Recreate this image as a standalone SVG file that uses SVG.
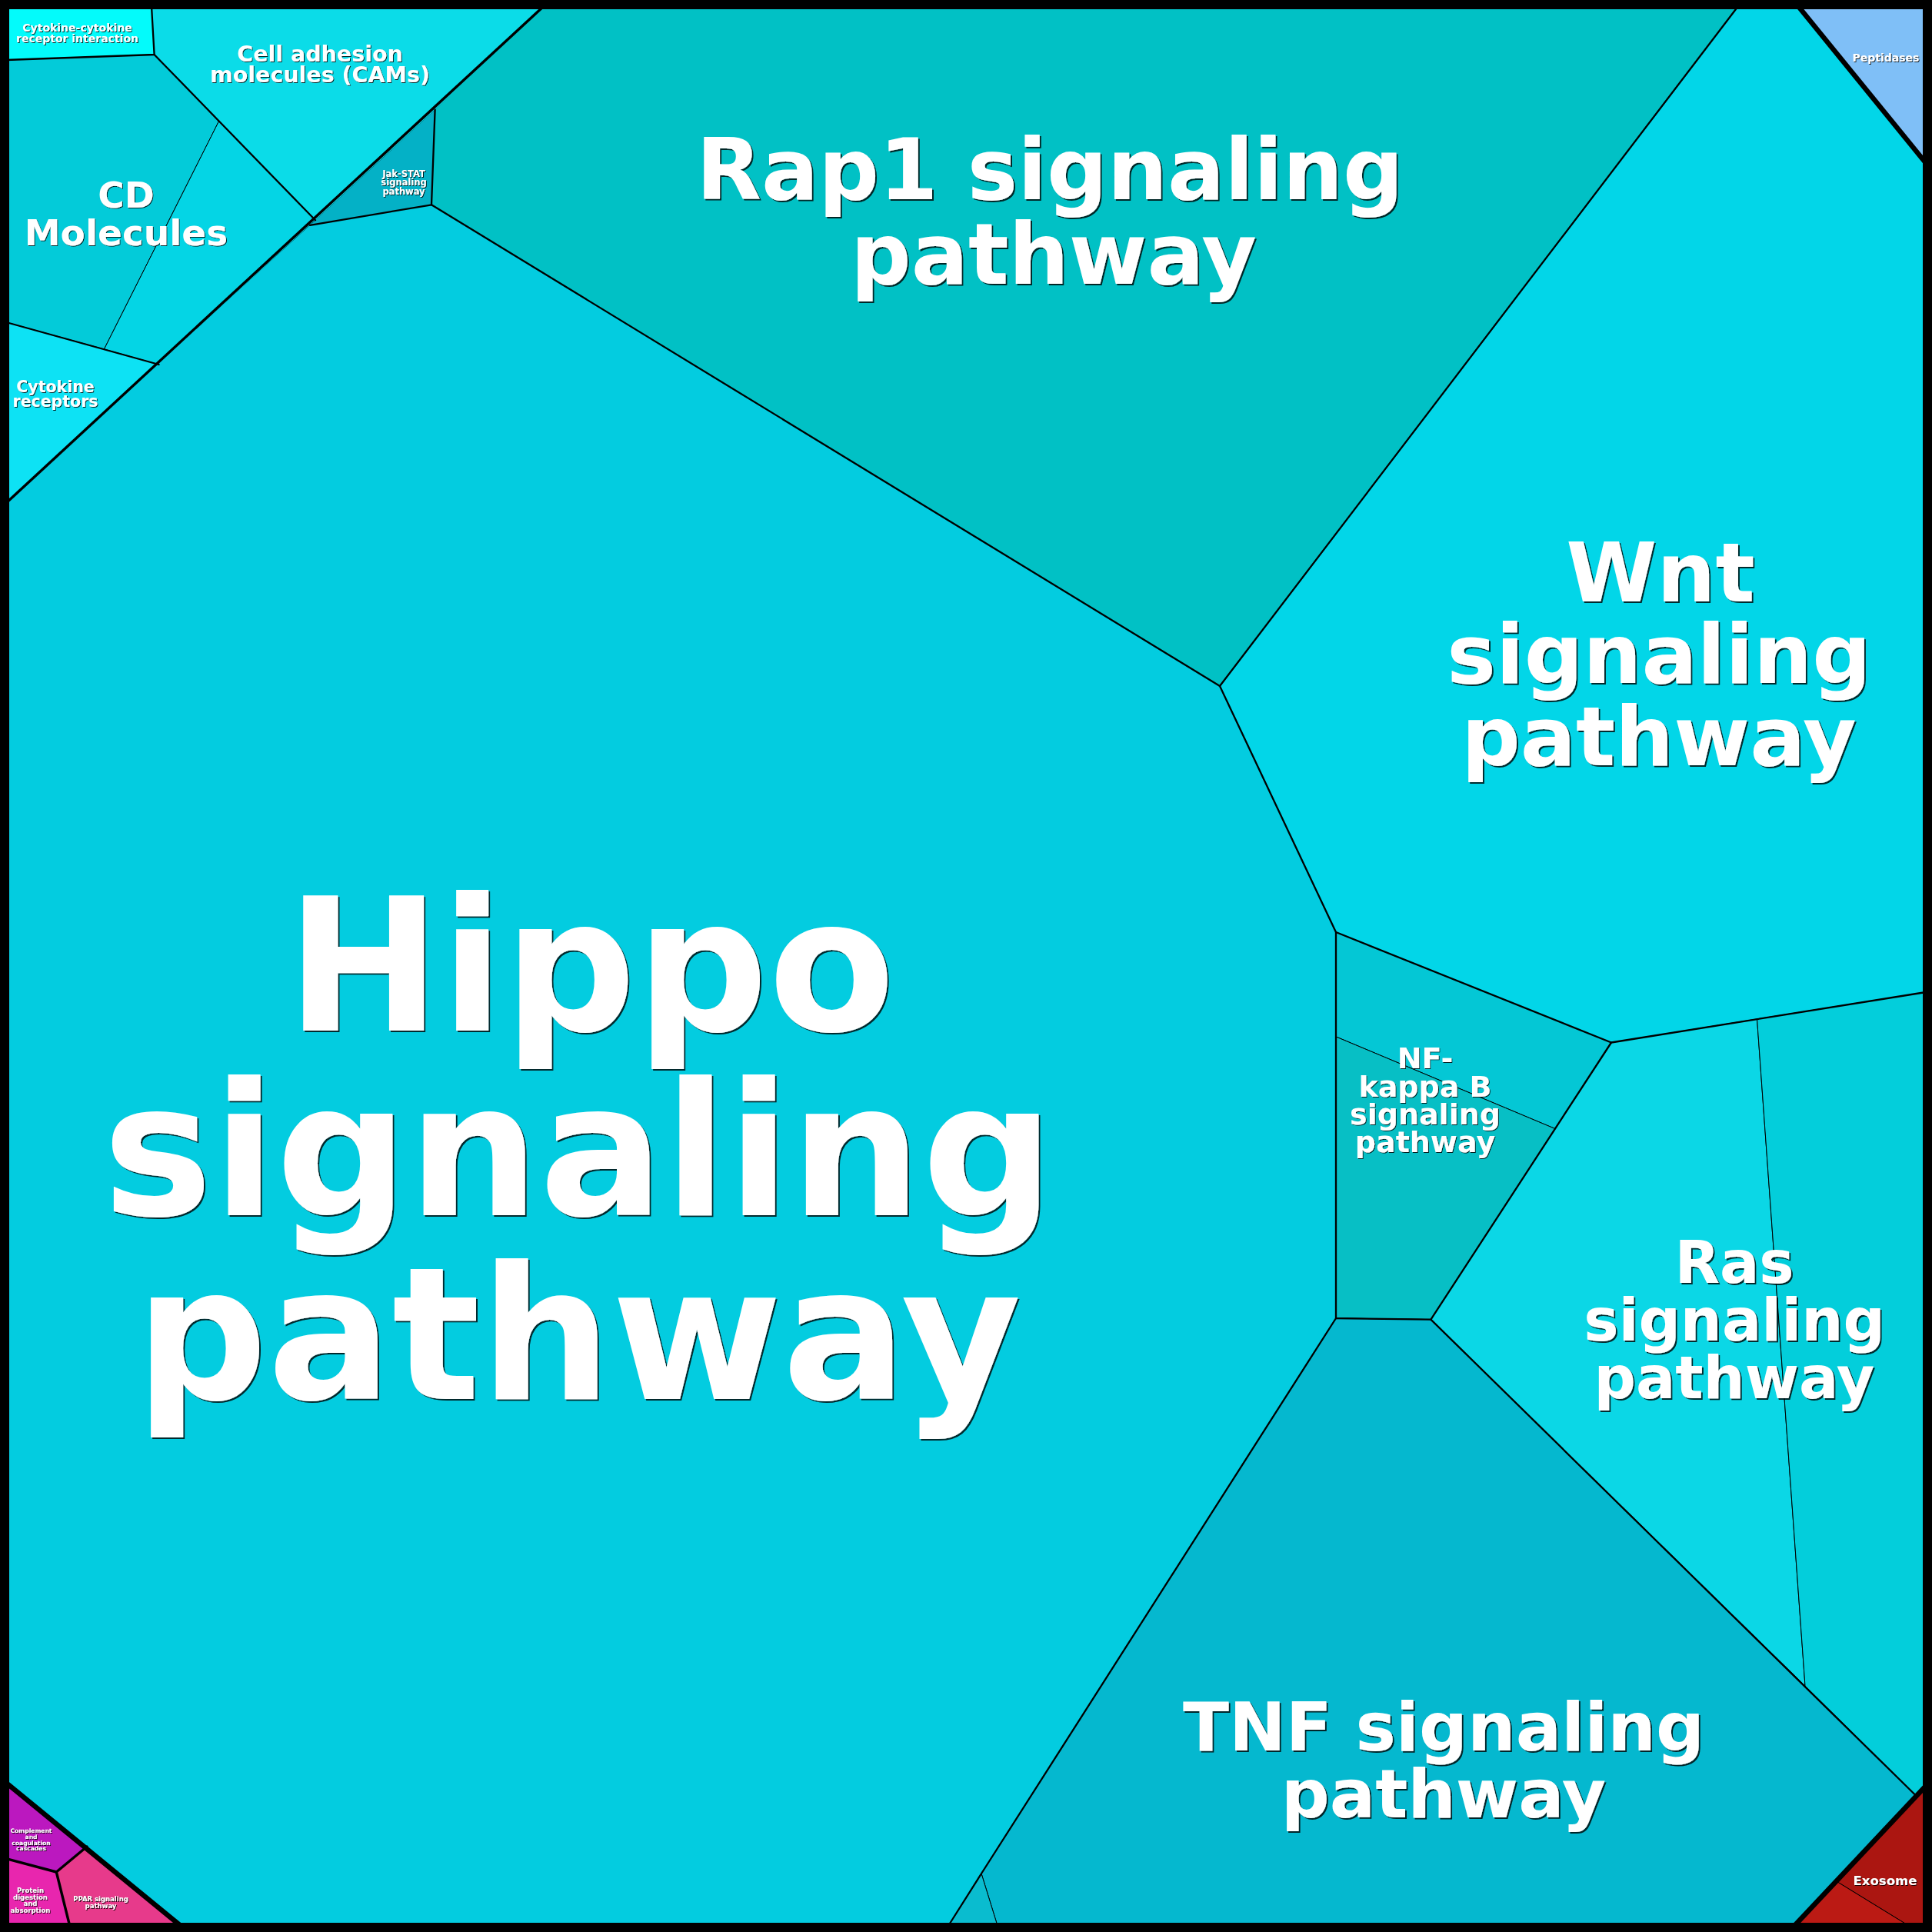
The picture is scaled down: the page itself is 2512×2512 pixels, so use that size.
<svg xmlns="http://www.w3.org/2000/svg" width="2512" height="2512" viewBox="0 0 2512 2512">
<defs>
<style>
.sub{stroke:#000;stroke-width:1;stroke-linejoin:round}
.b1{stroke:#000;stroke-width:6.5;fill:none;stroke-linejoin:round;stroke-linecap:round}
.b2{stroke:#000;stroke-width:3.4;fill:none;stroke-linejoin:round;stroke-linecap:round}
.b3{stroke:#000;stroke-width:2.3;fill:none;stroke-linejoin:round;stroke-linecap:round}
.lbl{font-family:"DejaVu Sans","Liberation Sans",sans-serif;font-weight:bold;fill:#fff;text-anchor:middle}
.big{filter:url(#shL)}
.sm{filter:url(#shS)}
</style>
<filter id="shL" x="-5%" y="-5%" width="112%" height="115%">
<feOffset in="SourceAlpha" dx="2" dy="2" result="o"/>
<feComponentTransfer in="o" result="d"><feFuncA type="linear" slope="0.8"/></feComponentTransfer>
<feMerge><feMergeNode in="d"/><feMergeNode in="SourceGraphic"/></feMerge>
</filter>
<filter id="shS" x="-5%" y="-5%" width="115%" height="125%">
<feOffset in="SourceAlpha" dx="1" dy="1" result="o"/>
<feComponentTransfer in="o" result="d"><feFuncA type="linear" slope="0.85"/></feComponentTransfer>
<feMerge><feMergeNode in="d"/><feMergeNode in="SourceGraphic"/></feMerge>
</filter>
</defs>
<rect x="0" y="0" width="2512" height="2512" fill="#5a5a5a"/>
<rect x="0" y="0" width="2512" height="2512" rx="10" fill="#000"/>

<g id="cytokine-cytokine">
<polygon points="8,8 197,8 200.6,71 8,78" fill="#03fbfb"/>
<text class="lbl sm" font-size="14"><tspan x="100.5" y="41.3">Cytokine-cytokine</tspan><tspan x="100.5" y="55">receptor interaction</tspan></text>
</g>
<g id="cams">
<polygon points="197,8 711,8 410,286.3 200.6,71" fill="#0bdce8"/>
<text class="lbl sm" font-size="28.5"><tspan x="416" y="80">Cell adhesion</tspan><tspan x="416" y="107">molecules (CAMs)</tspan></text>
</g>
<g id="cd-molecules">
<polygon class="sub" points="8,78 200.6,71 284.7,157.3 135.4,454 8,419" fill="#03cbd9"/>
<polygon class="sub" points="284.7,157.3 410,286.3 206.6,474 135.4,454" fill="#04d5e5"/>
<text class="lbl sm" font-size="47"><tspan x="164" y="270">CD</tspan><tspan x="164" y="319">Molecules</tspan></text>
</g>
<g id="cytokine-receptors">
<polygon points="8,419 206.6,474 8,658" fill="#0de2f4"/>
<text class="lbl sm" font-size="20.5"><tspan x="72" y="509.6">Cytokine</tspan><tspan x="72" y="529">receptors</tspan></text>
</g>
<g id="jak-stat">
<polygon points="403,292.8 565.6,142.6 561,266.3" fill="#04b1c6"/>
<text class="lbl sm" font-size="11.5"><tspan x="525" y="229.6">Jak-STAT</tspan><tspan x="525" y="241">signaling</tspan><tspan x="525" y="252.5">pathway</tspan></text>
</g>
<g id="rap1">
<polygon points="707,8 2260,8 1586,892 561,266.3 565.6,142.6" fill="#01c1c5"/>
<text class="lbl big" font-size="110"><tspan x="1365" y="259">Rap1 signaling</tspan><tspan x="1370" y="369">pathway</tspan></text>
</g>
<g id="wnt">
<polygon points="2260,8 2338,8 2504,212 2504,1290 2284.5,1324.9 2095,1355.5 1737,1212 1586,892" fill="#02d6e8"/>
<text class="lbl big" font-size="107"><tspan x="2159" y="782">Wnt</tspan><tspan x="2157" y="888">signaling</tspan><tspan x="2157" y="995">pathway</tspan></text>
</g>
<g id="peptidases">
<polygon points="2338,8 2504,8 2504,212" fill="#7fbff7"/>
<text class="lbl sm" font-size="14"><tspan x="2452" y="80">Peptidases</tspan></text>
</g>
<g id="hippo">
<polygon points="8,654 403,292.8 561,266.3 1586,892 1737,1212 1737,1714 1276,2436 1233,2504 235,2504 8,2318" fill="#03cce0"/>
<text class="lbl big" font-size="240"><tspan x="768" y="1340">Hippo</tspan><tspan x="752" y="1580">signaling</tspan><tspan x="752" y="1819">pathway</tspan></text>
</g>
<g id="nf-kappa-b">
<polygon class="sub" points="1737,1212 2095,1355.5 2022,1467.6 1737,1347.9" fill="#04c7d5"/>
<polygon class="sub" points="1737,1347.9 2022,1467.6 1860.4,1715.6 1737,1714" fill="#07bfc5"/>
<text class="lbl sm" font-size="38"><tspan x="1853" y="1389">NF-</tspan><tspan x="1853" y="1426">kappa B</tspan><tspan x="1853" y="1462">signaling</tspan><tspan x="1853" y="1498">pathway</tspan></text>
</g>
<g id="ras">
<polygon class="sub" points="2095,1355.5 2284.5,1324.9 2347,2192 1860.4,1715.6" fill="#0bd7e6"/>
<polygon class="sub" points="2284.5,1324.9 2504,1290 2504,2322 2491,2334.5 2347,2192" fill="#03cedb"/>
<text class="lbl big" font-size="76"><tspan x="2255" y="1668">Ras</tspan><tspan x="2255" y="1743">signaling</tspan><tspan x="2255" y="1818">pathway</tspan></text>
</g>
<g id="tnf">
<polygon class="sub" points="1737,1714 1860.4,1715.6 2491,2334.5 2333,2504 1297,2504 1276,2436" fill="#05b8cf"/>
<polygon class="sub" points="1276,2436 1297,2504 1233,2504" fill="#0abccf"/>
<text class="lbl big" font-size="88"><tspan x="1877" y="2276">TNF signaling</tspan><tspan x="1877" y="2363">pathway</tspan></text>
</g>
<g id="exosome">
<polygon class="sub" points="2504,2322 2504,2504 2482,2504 2386,2445" fill="#ab1611"/>
<polygon class="sub" points="2386,2445 2482,2504 2333,2504" fill="#bb1a14"/>
<text class="lbl sm" font-size="16.5"><tspan x="2451" y="2451">Exosome</tspan></text>
</g>
<g id="complement">
<polygon points="8,2318 113,2401 73.3,2434 8,2416.7" fill="#bb18bf"/>
<text class="lbl sm" font-size="7.6"><tspan x="40.5" y="2382.7">Complement</tspan><tspan x="40.5" y="2390.7">and</tspan><tspan x="40.5" y="2399">coagulation</tspan><tspan x="40.5" y="2406">cascades</tspan></text>
</g>
<g id="protein-digestion">
<polygon points="8,2416.7 73.3,2434 90.7,2504 8,2504" fill="#e826ae"/>
<text class="lbl sm" font-size="8.5"><tspan x="39.5" y="2461">Protein</tspan><tspan x="39.5" y="2469.5">digestion</tspan><tspan x="39.5" y="2478.3">and</tspan><tspan x="39.5" y="2487">absorption</tspan></text>
</g>
<g id="ppar">
<polygon points="73.3,2434 113,2401 235,2504 90.7,2504" fill="#e73a8b"/>
<text class="lbl sm" font-size="8.5"><tspan x="131" y="2471.7">PPAR signaling</tspan><tspan x="131" y="2480.7">pathway</tspan></text>
</g>

<g id="borders">
<polyline class="b3" points="8,78 200.6,71 197,8"/>
<polyline class="b3" points="200.6,71 410,286.3"/>
<polyline class="b3" points="8,419 206.6,474"/>
<polyline class="b3" points="403,292.8 561,266.3 565.6,142.6"/>
<polyline class="b3" points="561,266.3 1586,892 2260,8"/>
<polyline class="b3" points="1586,892 1737,1212 2095,1355.5 2504,1290"/>
<polyline class="b3" points="1737,1212 1737,1714 1860.4,1715.6 2095,1355.5"/>
<polyline class="b3" points="1860.4,1715.6 2491,2334.5"/>
<polyline class="b3" points="1737,1714 1276,2436 1233,2504"/>
<polyline class="b2" points="707,8 8,654"/>
<polyline class="b2" points="8,2416.7 73.3,2434 113,2401"/>
<polyline class="b2" points="73.3,2434 90.7,2504"/>
<polyline class="b1" points="2338,8 2504,212"/>
<polyline class="b1" points="2504,2322 2333,2504"/>
<polyline class="b1" points="8,2318 235,2504"/>
<rect x="6" y="6" width="2500" height="2500" fill="none" stroke="#000" stroke-width="12"/>
</g>
</svg>
